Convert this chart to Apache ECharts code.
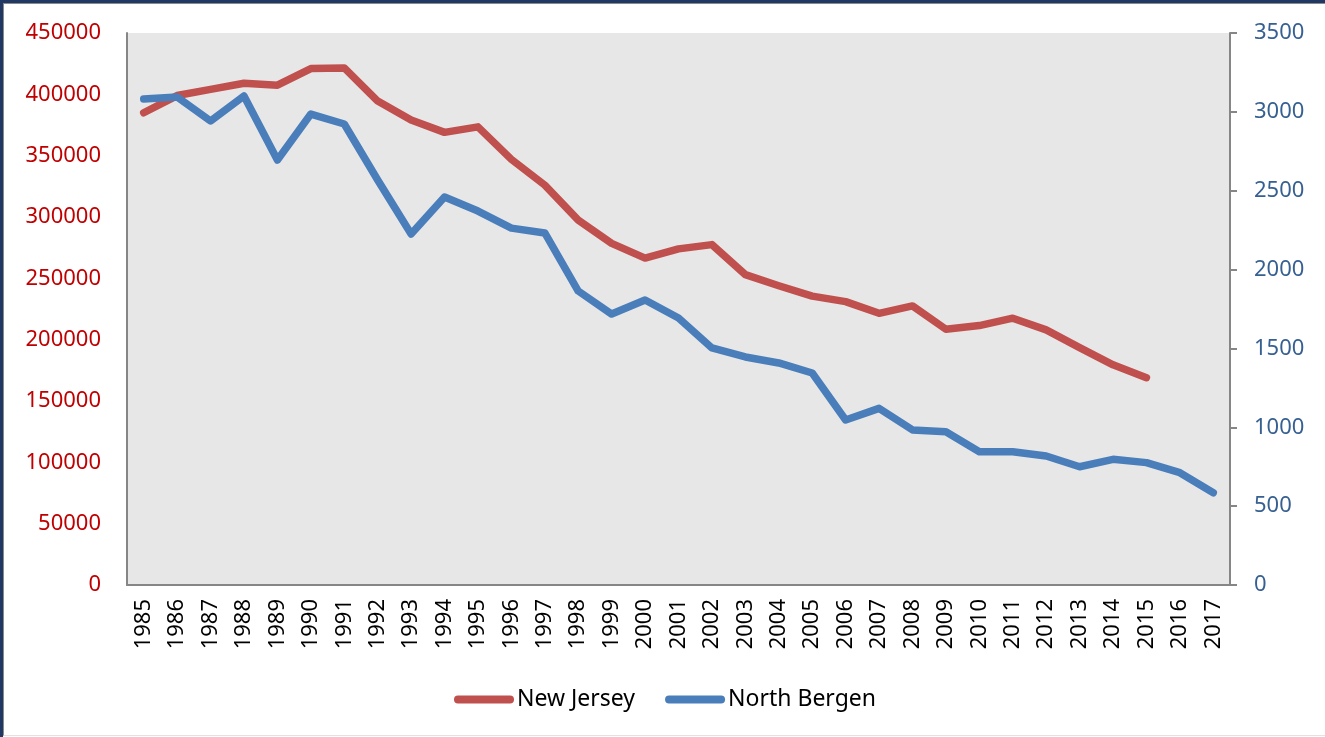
<!DOCTYPE html>
<html>
<head>
<meta charset="utf-8">
<script src="https://cdn.jsdelivr.net/npm/echarts@6/dist/echarts.min.js"></script>
<style>
  html, body { margin: 0; padding: 0; background: #fff; }
  #chart { position: absolute; left: 0; top: 0; width: 1325px; height: 737px; }
  #frame { position: absolute; left: 0; top: 0; width: 1325px; height: 737px; box-sizing: border-box;
    border-top: 3px solid #1f3864; border-left: 3px solid #1f3864; pointer-events: none; }
  #frame:after { content: ""; position: absolute; left: 0; top: 0; right: 0; bottom: 1px;
    border-top: 1px solid #8a8a8a; border-left: 1px solid #8a8a8a; border-bottom: 1px solid #e2e2e2; }
</style>
</head>
<body>
<div id="chart"></div>
<div id="frame"></div>
<script>
  /* population trend: New Jersey (left axis) vs North Bergen (right axis) */
  var years = ["1985","1986","1987","1988","1989","1990","1991","1992","1993","1994","1995",
    "1996","1997","1998","1999","2000","2001","2002","2003","2004","2005","2006","2007",
    "2008","2009","2010","2011","2012","2013","2014","2015","2016","2017"];
  var newJersey = [385000, 399000, 404000, 409000, 407500, 421000, 421500, 394500, 379000, 369000, 373500,
    347000, 326000, 297500, 278500, 266500, 274000, 277500, 253000, 244000, 235500, 231000, 221500,
    227500, 208500, 211500, 217500, 208000, 193500, 179500, 169000, null, null];
  var northBergen = [3081, 3094, 2942, 3100, 2695, 2986, 2923, 2568, 2225, 2460, 2371,
    2263, 2232, 1864, 1718, 1807, 1693, 1503, 1446, 1408, 1344, 1046, 1120,
    983, 972, 845, 845, 818, 750, 797, 776, 712, 585];

  var RED = "#c0504d", BLUE = "#4a7ebb", AXIS = "#868686";
  var FONT = "'Noto Sans', sans-serif";
  var capsule = "path://M4,0 L56,0 A4,4 0 0 1 56,8 L4,8 A4,4 0 0 1 4,0 Z";
  function plain(v) { return String(v); }

  var chart = echarts.init(document.getElementById("chart"));
  chart.setOption({
    animation: false,
    textStyle: { fontFamily: FONT },
    grid: { left: 127, right: 95, top: 33, bottom: 152, show: true, backgroundColor: "#e7e7e7", borderWidth: 0 },
    legend: {
      left: 449, top: 683, itemWidth: 62, itemHeight: 8, itemGap: 30,
      textStyle: { fontSize: 23, color: "#000", fontFamily: FONT, padding: [0, 0, 0, -3] },
      data: [{ name: "New Jersey", icon: capsule }, { name: "North Bergen", icon: capsule }]
    },
    xAxis: {
      type: "category", data: years, boundaryGap: true,
      axisLine: { lineStyle: { color: AXIS, width: 2 } },
      axisTick: { show: false },
      axisLabel: { rotate: 90, interval: 0, fontSize: 22, color: "#000", margin: 14, fontFamily: FONT }
    },
    yAxis: [{
      type: "value", min: 0, max: 450000, interval: 50000, position: "left",
      axisLine: { show: true, lineStyle: { color: AXIS, width: 2 } },
      axisTick: { show: false }, splitLine: { show: false },
      axisLabel: { fontSize: 22, color: "#c00000", margin: 26, fontFamily: FONT, formatter: plain }
    }, {
      type: "value", min: 0, max: 3500, interval: 500, position: "right",
      axisLine: { show: true, lineStyle: { color: AXIS, width: 2 } },
      axisTick: { show: true, length: 7, lineStyle: { color: AXIS, width: 2 } },
      splitLine: { show: false },
      axisLabel: { fontSize: 22, color: "#376092", margin: 24, fontFamily: FONT, formatter: plain }
    }],
    series: [{
      name: "New Jersey", type: "line", yAxisIndex: 0, data: newJersey, symbol: "none",
      itemStyle: { color: RED }, lineStyle: { color: RED, width: 7.5, cap: "round", join: "round" }
    }, {
      name: "North Bergen", type: "line", yAxisIndex: 1, data: northBergen, symbol: "none",
      itemStyle: { color: BLUE }, lineStyle: { color: BLUE, width: 7.5, cap: "round", join: "round" }
    }]
  });
</script>
</body>
</html>
